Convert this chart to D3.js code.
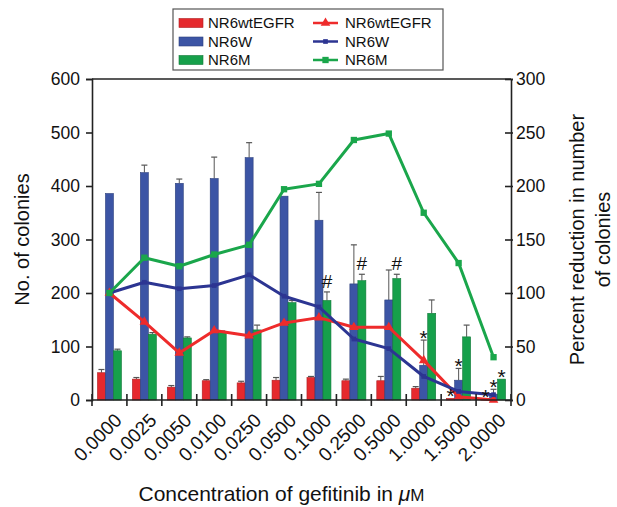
<!DOCTYPE html>
<html><head><meta charset="utf-8">
<script src="https://cdn.jsdelivr.net/npm/d3@7/dist/d3.min.js"></script>
<style>body{margin:0;background:#fff}svg{display:block}text{font-family:Arial,"Liberation Sans",Helvetica,sans-serif}</style>
</head><body><svg id="c" width="617" height="507"></svg>
<script>
const categories = ["0.0000","0.0025","0.0050","0.0100","0.0250","0.0500","0.1000","0.2500","0.5000","1.0000","1.5000","2.0000"];
const seriesNames = ["NR6wtEGFR","NR6W","NR6M"];
const barWt = [51,39,24,36,32,37,42,36,36,22,3,1];
const barWtErr = [6,3,3,2,3,5,2,3,8,3,0,0];
const barW = [386,425,405,414,453,381,336,217,187,65,37,11];
const barWErr = [0,14,8,40,28,0,52,73,56,47,22,9];
const barM = [92,123,116,126,131,182,186,223,227,162,118,39];
const barMErr = [3,3,2,3,9,4,16,12,8,25,22,0];
const lineWt = [100,73,44,65,60,72,77,68,68,37,3,0];
const lineW = [100,110,104,107,117,97,87,57,48,22,8,5];
const lineM = [100,133,125,136,145,197,202,243,249,175,128,40];
const leftTicks = [0,100,200,300,400,500,600];
const rightTicks = [0,50,100,150,200,250,300];
// annotations: [category index, series index, symbol]
const annotations = [[6,2,"#"],[7,2,"#"],[8,2,"#"],[9,1,"*"],[10,1,"*"],[10,0,"*"],[11,0,"*"],[11,1,"*"],[11,2,"*"]];

const barColors = ["#e5292d","#3c55a5","#16a04b"];
const lineColors = ["#ee2b2b","#2c3592","#1aa64b"];
const bars = [barWt, barW, barM];
const errs = [barWtErr, barWErr, barMErr];
const lines = [lineWt, lineW, lineM];

const svg = d3.select("#c");
const L = 92, R = 511, T = 79, B = 400;
const x = d3.scaleBand().domain(categories).range([L, R]);
const bw = x.bandwidth();
const xs = d3.scaleBand().domain(seriesNames).range([bw/2-12, bw/2+12]);
const yL = d3.scaleLinear().domain([0,600]).range([B, T]);
const yR = d3.scaleLinear().domain([0,300]).range([B, T]);

// bars
seriesNames.forEach((s, si) => {
  const g = svg.append("g");
  g.selectAll("line.err").data(categories).join("line")
    .attr("x1", (c) => x(c) + xs(s) + xs.bandwidth()/2)
    .attr("x2", (c) => x(c) + xs(s) + xs.bandwidth()/2)
    .attr("y1", (c,i) => yL(bars[si][i]))
    .attr("y2", (c,i) => yL(bars[si][i] + errs[si][i]))
    .attr("stroke", "#555").attr("stroke-width", 1);
  g.selectAll("line.cap").data(categories).join("line")
    .attr("x1", (c) => x(c) + xs(s) + xs.bandwidth()/2 - 3)
    .attr("x2", (c) => x(c) + xs(s) + xs.bandwidth()/2 + 3)
    .attr("y1", (c,i) => yL(bars[si][i] + errs[si][i]))
    .attr("y2", (c,i) => yL(bars[si][i] + errs[si][i]))
    .attr("stroke", (c,i) => errs[si][i] > 0 ? "#555" : "none").attr("stroke-width", 1.2);
  g.selectAll("rect").data(categories).join("rect")
    .attr("x", (c) => x(c) + xs(s))
    .attr("width", xs.bandwidth())
    .attr("y", (c,i) => yL(bars[si][i]))
    .attr("height", (c,i) => B - yL(bars[si][i]))
    .attr("fill", barColors[si]).attr("stroke", d3.color(barColors[si]).darker(0.8)).attr("stroke-width", 0.6);
});

// lines
const symbols = [d3.symbolTriangle, d3.symbolSquare, d3.symbolSquare];
const symSizes = [40, 22, 40];
lines.forEach((vals, si) => {
  const line = d3.line().x((d,i) => x(categories[i]) + bw/2).y((d) => yR(d));
  svg.append("path").datum(vals).attr("d", line).attr("fill", "none")
    .attr("stroke", lineColors[si]).attr("stroke-width", 3).attr("stroke-linejoin", "round");
  svg.append("g").selectAll("path").data(vals).join("path")
    .attr("d", d3.symbol().type(symbols[si]).size(symSizes[si]))
    .attr("transform", (d,i) => `translate(${x(categories[i]) + bw/2},${yR(d)})`)
    .attr("fill", lineColors[si]);
});

// annotations (on top)
svg.append("g").selectAll("text").data(annotations).join("text")
  .attr("x", (a) => x(categories[a[0]]) + xs(seriesNames[a[1]]) + xs.bandwidth()/2)
  .attr("y", (a) => yL(bars[a[1]][a[0]] + errs[a[1]][a[0]]) + (a[2] === "#" ? -4 : 5))
  .attr("text-anchor", "middle").attr("font-size", a => a[2] === "#" ? 19 : 21)
  .attr("fill", "#111")
  .text((a) => a[2]);

// axes frame
svg.append("line").attr("x1", L).attr("x2", R).attr("y1", T).attr("y2", T).attr("stroke", "#222").attr("stroke-width", 1.6);
const axL = svg.append("g").attr("transform", `translate(${L},0)`).call(d3.axisLeft(yL).tickValues(leftTicks).tickSize(6).tickPadding(6));
const axR = svg.append("g").attr("transform", `translate(${R},0)`).call(d3.axisRight(yR).tickValues(rightTicks).tickSize(2).tickPadding(3));
axR.selectAll(".tick line").attr("x1", -6);
axL.selectAll(".tick line").attr("x1", 1);
[axL, axR].forEach(a => {
  a.select(".domain").attr("stroke", "#222").attr("stroke-width", 1.6);
  a.selectAll(".tick line").attr("stroke", "#222").attr("stroke-width", 1.6);
  a.selectAll("text").attr("font-size", 17.5).attr("fill", "#111").attr("font-family", "Arial,'Liberation Sans',sans-serif");
});
// x axis
const gx = svg.append("g");
gx.append("line").attr("x1", L).attr("x2", R).attr("y1", B).attr("y2", B).attr("stroke", "#222").attr("stroke-width", 1.6);
const boundaries = categories.map(c => x(c)).concat([x(categories[categories.length-1]) + bw]);
gx.selectAll("line.t").data(boundaries).join("line").attr("class","t")
  .attr("x1", d => d).attr("x2", d => d).attr("y1", B - 6).attr("y2", B + 6)
  .attr("stroke", "#222").attr("stroke-width", 1.6);
gx.selectAll("text").data(categories).join("text")
  .attr("transform", c => `translate(${x(c) + bw/2 + 4},${B + 12}) rotate(-45)`)
  .attr("text-anchor", "end").attr("dy", "0.7em").attr("font-size", 19).attr("fill", "#111")
  .text(c => c);

// axis titles
svg.append("text").attr("transform", `translate(29,${(T+B)/2}) rotate(-90)`).attr("text-anchor", "middle")
  .attr("font-size", 20).attr("fill", "#111").text("No. of colonies");
const rt = svg.append("text").attr("transform", `translate(584,${(T+B)/2}) rotate(-90)`).attr("text-anchor", "middle")
  .attr("font-size", 20).attr("fill", "#111");
rt.append("tspan").attr("x", 0).attr("dy", 0).text("Percent reduction in number");
rt.append("tspan").attr("x", 0).attr("dy", 26).text("of colonies");
const xt = svg.append("text").attr("x", (L+R)/2 - 20).attr("y", 501).attr("text-anchor", "middle")
  .attr("font-size", 21).attr("fill", "#111");
xt.append("tspan").text("Concentration of gefitinib in ");
xt.append("tspan").attr("font-style", "italic").text("μ");
xt.append("tspan").attr("font-size", 17).text("M");

// legend
const lg = svg.append("g");
lg.append("rect").attr("x", 173).attr("y", 9).attr("width", 270).attr("height", 61)
  .attr("fill", "#fff").attr("stroke", "#555").attr("stroke-width", 1.2);
seriesNames.forEach((s, i) => {
  const yy = 23 + i * 18.5;
  lg.append("rect").attr("x", 179).attr("y", yy - 4.5).attr("width", 24).attr("height", 9)
    .attr("fill", barColors[i]).attr("stroke", d3.color(barColors[i]).darker(0.8)).attr("stroke-width", 0.6);
  lg.append("text").attr("x", 208).attr("y", yy).attr("dy", "0.36em").attr("font-size", 15).attr("fill", "#111").text(s);
  lg.append("line").attr("x1", 313).attr("x2", 338).attr("y1", yy).attr("y2", yy)
    .attr("stroke", lineColors[i]).attr("stroke-width", 2.5);
  lg.append("path").attr("d", d3.symbol().type(symbols[i]).size(symSizes[i])())
    .attr("transform", `translate(325.5,${yy})`).attr("fill", lineColors[i]);
  lg.append("text").attr("x", 345).attr("y", yy).attr("dy", "0.36em").attr("font-size", 15).attr("fill", "#111").text(s);
});
</script></body></html>
